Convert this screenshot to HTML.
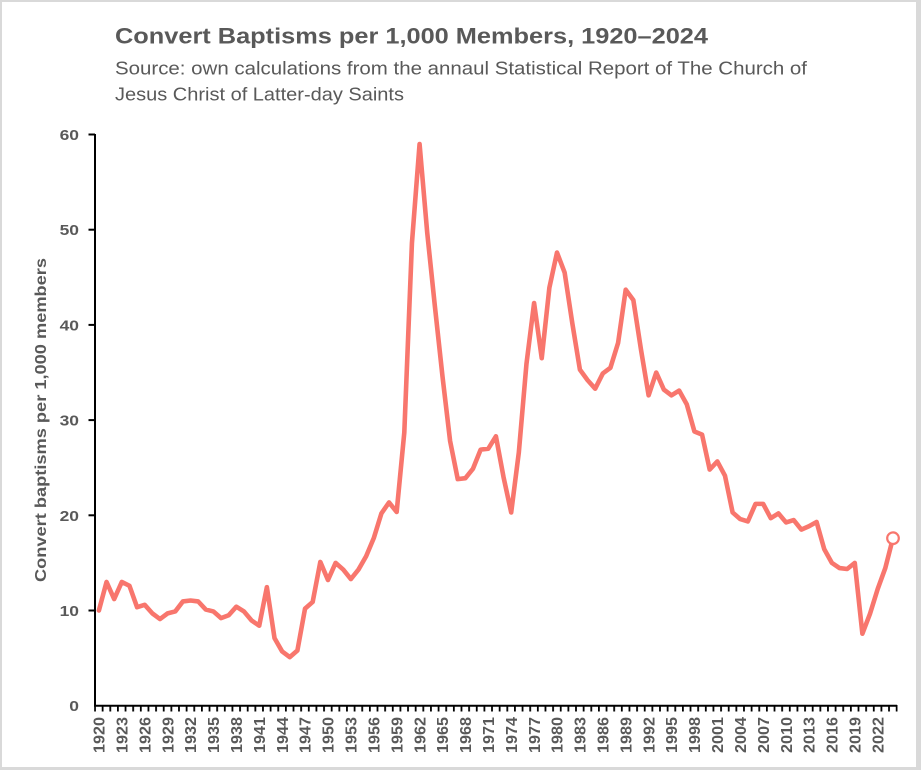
<!DOCTYPE html>
<html>
<head>
<meta charset="utf-8">
<style>
  html, body { margin: 0; padding: 0; background: #d9d9d9; }
  svg { display: block; }
</style>
</head>
<body>
<svg width="921" height="770" viewBox="0 0 921 770" xmlns="http://www.w3.org/2000/svg">
  <defs>
    <pattern id="xt" patternUnits="userSpaceOnUse" x="94.1" y="705" width="7.635" height="8">
      <rect x="0" y="0" width="1.8" height="8" fill="#000"/>
    </pattern>
  </defs>
  <rect x="0" y="0" width="921" height="770" fill="#d9d9d9"/>
  <rect x="2" y="2" width="914" height="765" fill="#ffffff"/>

  <!-- Title -->
  <text x="115" y="43.5" font-family="Liberation Sans, sans-serif" font-weight="bold" font-size="22" fill="#595959" textLength="593" lengthAdjust="spacingAndGlyphs">Convert Baptisms per 1,000 Members, 1920–2024</text>
  <text x="115" y="74.5" font-family="Liberation Sans, sans-serif" font-size="18" fill="#595959" textLength="692" lengthAdjust="spacingAndGlyphs">Source: own calculations from the annaul Statistical Report of The Church of</text>
  <text x="115" y="100.5" font-family="Liberation Sans, sans-serif" font-size="18" fill="#595959" textLength="289" lengthAdjust="spacingAndGlyphs">Jesus Christ of Latter-day Saints</text>

  <!-- Y axis title -->
  <text transform="translate(46,420) rotate(-90)" text-anchor="middle" font-family="Liberation Sans, sans-serif" font-weight="bold" font-size="16" fill="#595959" textLength="324" lengthAdjust="spacingAndGlyphs">Convert baptisms per 1,000 members</text>

  <!-- Y axis -->
  <line x1="95" y1="134" x2="95" y2="706.5" stroke="#000" stroke-width="2"/>
  <g stroke="#000" stroke-width="2">
    <line x1="88.5" y1="134.5" x2="95" y2="134.5"/>
    <line x1="88.5" y1="229.7" x2="95" y2="229.7"/>
    <line x1="88.5" y1="324.9" x2="95" y2="324.9"/>
    <line x1="88.5" y1="420.1" x2="95" y2="420.1"/>
    <line x1="88.5" y1="515.3" x2="95" y2="515.3"/>
    <line x1="88.5" y1="610.5" x2="95" y2="610.5"/>
  </g>
  <g font-family="Liberation Sans, sans-serif" font-weight="bold" font-size="15" fill="#595959" text-anchor="end">
    <text x="79" y="140" textLength="19.4" lengthAdjust="spacingAndGlyphs">60</text>
    <text x="79" y="235.2" textLength="19.4" lengthAdjust="spacingAndGlyphs">50</text>
    <text x="79" y="330.4" textLength="19.4" lengthAdjust="spacingAndGlyphs">40</text>
    <text x="79" y="425.6" textLength="19.4" lengthAdjust="spacingAndGlyphs">30</text>
    <text x="79" y="520.8" textLength="19.4" lengthAdjust="spacingAndGlyphs">20</text>
    <text x="79" y="616" textLength="19.4" lengthAdjust="spacingAndGlyphs">10</text>
    <text x="79" y="711.2" textLength="9.7" lengthAdjust="spacingAndGlyphs">0</text>
  </g>

  <!-- X axis -->
  <line x1="94" y1="705.7" x2="897" y2="705.7" stroke="#000" stroke-width="2"/>
  <rect x="94.1" y="705" width="803.6" height="6.5" fill="url(#xt)"/>

  <g font-family="Liberation Sans, sans-serif" font-weight="bold" font-size="15.5" fill="#595959" text-anchor="end">
    <text transform="translate(104.6,717) rotate(-90)" textLength="36" lengthAdjust="spacingAndGlyphs">1920</text>
    <text transform="translate(127.5,717) rotate(-90)" textLength="36" lengthAdjust="spacingAndGlyphs">1923</text>
    <text transform="translate(150.4,717) rotate(-90)" textLength="36" lengthAdjust="spacingAndGlyphs">1926</text>
    <text transform="translate(173.3,717) rotate(-90)" textLength="36" lengthAdjust="spacingAndGlyphs">1929</text>
    <text transform="translate(196.2,717) rotate(-90)" textLength="36" lengthAdjust="spacingAndGlyphs">1932</text>
    <text transform="translate(219.1,717) rotate(-90)" textLength="36" lengthAdjust="spacingAndGlyphs">1935</text>
    <text transform="translate(242.0,717) rotate(-90)" textLength="36" lengthAdjust="spacingAndGlyphs">1938</text>
    <text transform="translate(264.9,717) rotate(-90)" textLength="36" lengthAdjust="spacingAndGlyphs">1941</text>
    <text transform="translate(287.8,717) rotate(-90)" textLength="36" lengthAdjust="spacingAndGlyphs">1944</text>
    <text transform="translate(310.7,717) rotate(-90)" textLength="36" lengthAdjust="spacingAndGlyphs">1947</text>
    <text transform="translate(333.6,717) rotate(-90)" textLength="36" lengthAdjust="spacingAndGlyphs">1950</text>
    <text transform="translate(356.6,717) rotate(-90)" textLength="36" lengthAdjust="spacingAndGlyphs">1953</text>
    <text transform="translate(379.5,717) rotate(-90)" textLength="36" lengthAdjust="spacingAndGlyphs">1956</text>
    <text transform="translate(402.4,717) rotate(-90)" textLength="36" lengthAdjust="spacingAndGlyphs">1959</text>
    <text transform="translate(425.3,717) rotate(-90)" textLength="36" lengthAdjust="spacingAndGlyphs">1962</text>
    <text transform="translate(448.2,717) rotate(-90)" textLength="36" lengthAdjust="spacingAndGlyphs">1965</text>
    <text transform="translate(471.1,717) rotate(-90)" textLength="36" lengthAdjust="spacingAndGlyphs">1968</text>
    <text transform="translate(494.0,717) rotate(-90)" textLength="36" lengthAdjust="spacingAndGlyphs">1971</text>
    <text transform="translate(516.9,717) rotate(-90)" textLength="36" lengthAdjust="spacingAndGlyphs">1974</text>
    <text transform="translate(539.8,717) rotate(-90)" textLength="36" lengthAdjust="spacingAndGlyphs">1977</text>
    <text transform="translate(562.7,717) rotate(-90)" textLength="36" lengthAdjust="spacingAndGlyphs">1980</text>
    <text transform="translate(585.6,717) rotate(-90)" textLength="36" lengthAdjust="spacingAndGlyphs">1983</text>
    <text transform="translate(608.5,717) rotate(-90)" textLength="36" lengthAdjust="spacingAndGlyphs">1986</text>
    <text transform="translate(631.4,717) rotate(-90)" textLength="36" lengthAdjust="spacingAndGlyphs">1989</text>
    <text transform="translate(654.3,717) rotate(-90)" textLength="36" lengthAdjust="spacingAndGlyphs">1992</text>
    <text transform="translate(677.2,717) rotate(-90)" textLength="36" lengthAdjust="spacingAndGlyphs">1995</text>
    <text transform="translate(700.1,717) rotate(-90)" textLength="36" lengthAdjust="spacingAndGlyphs">1998</text>
    <text transform="translate(723.0,717) rotate(-90)" textLength="36" lengthAdjust="spacingAndGlyphs">2001</text>
    <text transform="translate(745.9,717) rotate(-90)" textLength="36" lengthAdjust="spacingAndGlyphs">2004</text>
    <text transform="translate(768.8,717) rotate(-90)" textLength="36" lengthAdjust="spacingAndGlyphs">2007</text>
    <text transform="translate(791.8,717) rotate(-90)" textLength="36" lengthAdjust="spacingAndGlyphs">2010</text>
    <text transform="translate(814.7,717) rotate(-90)" textLength="36" lengthAdjust="spacingAndGlyphs">2013</text>
    <text transform="translate(837.6,717) rotate(-90)" textLength="36" lengthAdjust="spacingAndGlyphs">2016</text>
    <text transform="translate(860.5,717) rotate(-90)" textLength="36" lengthAdjust="spacingAndGlyphs">2019</text>
    <text transform="translate(883.4,717) rotate(-90)" textLength="36" lengthAdjust="spacingAndGlyphs">2022</text>
  </g>

  <!-- Data line -->
  <g transform="translate(98.9,705.7) scale(7.635,-9.52)">
    <polyline fill="none" stroke="#F8766D" stroke-width="4.6" stroke-linejoin="round" stroke-linecap="round" vector-effect="non-scaling-stroke"
      points="0,10.0 1,13.0 2,11.2 3,13.0 4,12.6 5,10.35 6,10.6 7,9.7 8,9.1 9,9.7 10,9.9 11,10.95 12,11.05 13,10.95 14,10.1 15,9.9 16,9.2 17,9.5 18,10.4 19,9.9 20,8.95 21,8.4 22,12.45 23,7.1 24,5.7 25,5.1 26,5.8 27,10.2 28,10.9 29,15.1 30,13.2 31,15.0 32,14.3 33,13.3 34,14.3 35,15.7 36,17.6 37,20.2 38,21.35 39,20.35 40,28.7 41,48.6 42,59.0 43,49.7 44,42.0 45,34.6 46,27.8 47,23.8 48,23.9 49,24.9 50,26.9 51,27.0 52,28.3 53,24.0 54,20.3 55,26.6 56,35.9 57,42.3 58,36.5 59,43.9 60,47.6 61,45.5 62,40.2 63,35.3 64,34.2 65,33.3 66,34.9 67,35.5 68,38.1 69,43.7 70,42.6 71,37.4 72,32.6 73,35.0 74,33.2 75,32.6 76,33.1 77,31.65 78,28.8 79,28.47 80,24.8 81,25.66 82,24.16 83,20.3 84,19.6 85,19.36 86,21.2 87,21.2 88,19.7 89,20.2 90,19.25 91,19.5 92,18.5 93,18.85 94,19.3 95,16.45 96,15.0 97,14.46 98,14.36 99,15.0 100,7.56 101,9.66 102,12.25 103,14.46 104,17.6"/>
  </g>
  <circle cx="893" cy="538.2" r="5.8" fill="#ffffff" stroke="#F8766D" stroke-width="2.2"/>
</svg>
</body>
</html>
